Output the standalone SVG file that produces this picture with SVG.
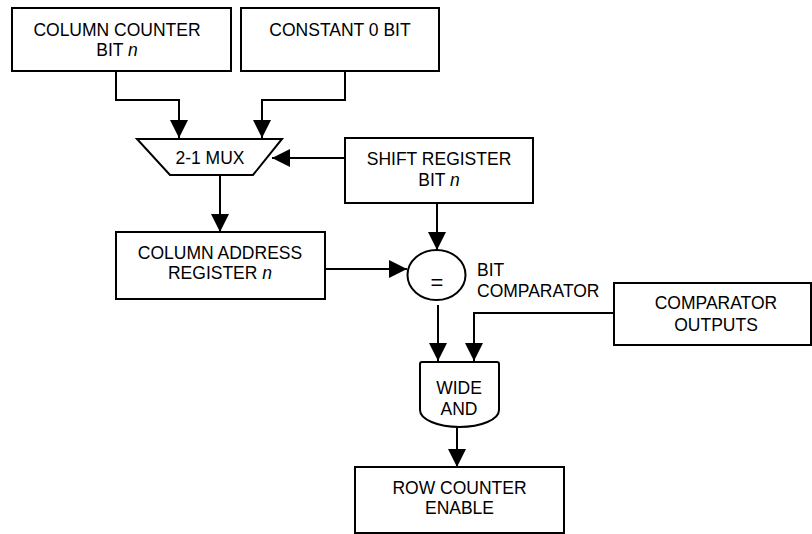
<svg xmlns="http://www.w3.org/2000/svg" width="812" height="534" viewBox="0 0 812 534">
  <style>
    .box { fill: #fff; stroke: #000; stroke-width: 2; }
    .wire { fill: none; stroke: #000; stroke-width: 2; }
    text { font-family: "Liberation Sans", Arial, sans-serif; font-size: 17.5px; fill: #000; }
    .c { text-anchor: middle; }
  </style>
  <defs>
    <marker id="arrow" markerUnits="userSpaceOnUse" markerWidth="18" markerHeight="18" refX="18" refY="9" orient="auto">
      <path d="M0,0 L18,9 L0,18 Z" fill="#000"/>
    </marker>
  </defs>
  <rect width="812" height="534" fill="#fff"/>

  <!-- connectors -->
  <g id="connectors" class="wire" marker-end="url(#arrow)">
    <path d="M116,71 V100 H179 V138"/>
    <path d="M345,71 V100 H262 V138"/>
    <path d="M345,158 H272"/>
    <path d="M220,175 V232"/>
    <path d="M437,204 V250"/>
    <path d="M325,269 H407"/>
    <path d="M438,305 V361"/>
    <path d="M614,313 H474 V361"/>
    <path d="M457,428 V467"/>
  </g>

  <g id="column-counter">
    <rect class="box" x="12" y="8" width="219" height="63"/>
    <text class="c" x="117" y="35.5">COLUMN COUNTER</text>
    <text class="c" x="117" y="55.5">BIT <tspan font-style="italic">n</tspan></text>
  </g>

  <g id="constant-bit">
    <rect class="box" x="241" y="8" width="198" height="63"/>
    <text class="c" x="340" y="35.5">CONSTANT 0 BIT</text>
  </g>

  <g id="mux">
    <path class="box" d="M137,139 H282 L253,175 H170 Z"/>
    <text class="c" x="210" y="164">2-1 MUX</text>
  </g>

  <g id="shift-register">
    <rect class="box" x="345" y="138" width="188" height="65"/>
    <text class="c" x="439" y="165">SHIFT REGISTER</text>
    <text class="c" x="439" y="186">BIT <tspan font-style="italic">n</tspan></text>
  </g>

  <g id="column-address">
    <rect class="box" x="116" y="232" width="209" height="67"/>
    <text class="c" x="220" y="259">COLUMN ADDRESS</text>
    <text class="c" x="220" y="279">REGISTER <tspan font-style="italic">n</tspan></text>
  </g>

  <g id="bit-comparator">
    <ellipse class="box" cx="436.5" cy="275" rx="29" ry="25"/>
    <text class="c" x="437" y="290" style="font-size:22px">=</text>
    <text x="477" y="276">BIT</text>
    <text x="477" y="297">COMPARATOR</text>
  </g>

  <g id="comparator-outputs">
    <rect class="box" x="614" y="283" width="197" height="62"/>
    <text class="c" x="716" y="309">COMPARATOR</text>
    <text class="c" x="716" y="331">OUTPUTS</text>
  </g>

  <g id="wide-and">
    <path class="box" d="M420,410 V364 Q420,362 422,362 H497 Q499,362 499,364 V410 A39.5 17 0 0 1 420,410 Z"/>
    <text class="c" x="459" y="394">WIDE</text>
    <text class="c" x="459" y="415">AND</text>
  </g>

  <g id="row-counter-enable">
    <rect class="box" x="355" y="467" width="209" height="66"/>
    <text class="c" x="459.5" y="494">ROW COUNTER</text>
    <text class="c" x="459.5" y="514">ENABLE</text>
  </g>
</svg>
